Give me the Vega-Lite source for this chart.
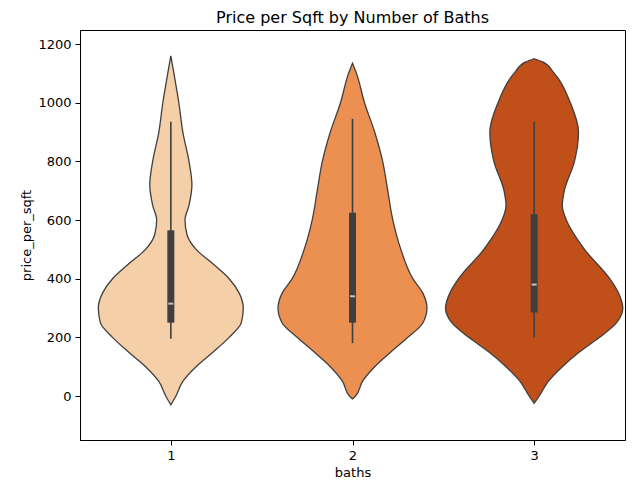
{
  "$schema": "https://vega.github.io/schema/vega-lite/v6.json",
  "width": 545,
  "height": 410,
  "autosize": {"type": "none"},
  "padding": {"left": 80, "top": 30, "right": 15, "bottom": 40},
  "title": {"text": "Price per Sqft by Number of Baths", "fontSize": 16, "fontWeight": "normal", "font": "DejaVu Sans", "color": "#000000"},
  "datasets": {
    "violin": [
      {"baths": 1, "price": 1160, "lo": 1, "hi": 1},
      {"baths": 1, "price": 1100, "lo": 0.983, "hi": 1.017},
      {"baths": 1, "price": 1000, "lo": 0.956, "hi": 1.044},
      {"baths": 1, "price": 900, "lo": 0.934, "hi": 1.066},
      {"baths": 1, "price": 800, "lo": 0.9, "hi": 1.1},
      {"baths": 1, "price": 720, "lo": 0.884, "hi": 1.116},
      {"baths": 1, "price": 650, "lo": 0.9, "hi": 1.1},
      {"baths": 1, "price": 600, "lo": 0.922, "hi": 1.078},
      {"baths": 1, "price": 550, "lo": 0.911, "hi": 1.089},
      {"baths": 1, "price": 500, "lo": 0.861, "hi": 1.139},
      {"baths": 1, "price": 450, "lo": 0.767, "hi": 1.233},
      {"baths": 1, "price": 400, "lo": 0.679, "hi": 1.321},
      {"baths": 1, "price": 350, "lo": 0.623, "hi": 1.377},
      {"baths": 1, "price": 300, "lo": 0.601, "hi": 1.399},
      {"baths": 1, "price": 250, "lo": 0.612, "hi": 1.388},
      {"baths": 1, "price": 200, "lo": 0.679, "hi": 1.321},
      {"baths": 1, "price": 150, "lo": 0.767, "hi": 1.233},
      {"baths": 1, "price": 100, "lo": 0.861, "hi": 1.139},
      {"baths": 1, "price": 50, "lo": 0.934, "hi": 1.066},
      {"baths": 1, "price": 0, "lo": 0.972, "hi": 1.028},
      {"baths": 1, "price": -30, "lo": 1, "hi": 1},
      {"baths": 2, "price": 1135, "lo": 2, "hi": 2},
      {"baths": 2, "price": 1100, "lo": 1.978, "hi": 2.022},
      {"baths": 2, "price": 1000, "lo": 1.934, "hi": 2.066},
      {"baths": 2, "price": 900, "lo": 1.878, "hi": 2.122},
      {"baths": 2, "price": 800, "lo": 1.834, "hi": 2.166},
      {"baths": 2, "price": 700, "lo": 1.806, "hi": 2.194},
      {"baths": 2, "price": 600, "lo": 1.778, "hi": 2.222},
      {"baths": 2, "price": 500, "lo": 1.734, "hi": 2.266},
      {"baths": 2, "price": 400, "lo": 1.668, "hi": 2.332},
      {"baths": 2, "price": 350, "lo": 1.612, "hi": 2.388},
      {"baths": 2, "price": 300, "lo": 1.59, "hi": 2.41},
      {"baths": 2, "price": 250, "lo": 1.612, "hi": 2.388},
      {"baths": 2, "price": 200, "lo": 1.695, "hi": 2.305},
      {"baths": 2, "price": 150, "lo": 1.789, "hi": 2.211},
      {"baths": 2, "price": 100, "lo": 1.878, "hi": 2.122},
      {"baths": 2, "price": 50, "lo": 1.945, "hi": 2.055},
      {"baths": 2, "price": 0, "lo": 1.983, "hi": 2.017},
      {"baths": 2, "price": -10, "lo": 2, "hi": 2},
      {"baths": 3, "price": 1150, "lo": 3, "hi": 3},
      {"baths": 3, "price": 1140, "lo": 2.956, "hi": 3.044},
      {"baths": 3, "price": 1100, "lo": 2.889, "hi": 3.111},
      {"baths": 3, "price": 1000, "lo": 2.801, "hi": 3.199},
      {"baths": 3, "price": 900, "lo": 2.756, "hi": 3.244},
      {"baths": 3, "price": 800, "lo": 2.778, "hi": 3.222},
      {"baths": 3, "price": 700, "lo": 2.834, "hi": 3.166},
      {"baths": 3, "price": 650, "lo": 2.845, "hi": 3.155},
      {"baths": 3, "price": 600, "lo": 2.823, "hi": 3.177},
      {"baths": 3, "price": 500, "lo": 2.723, "hi": 3.277},
      {"baths": 3, "price": 400, "lo": 2.584, "hi": 3.416},
      {"baths": 3, "price": 350, "lo": 2.535, "hi": 3.465},
      {"baths": 3, "price": 300, "lo": 2.512, "hi": 3.488},
      {"baths": 3, "price": 250, "lo": 2.546, "hi": 3.454},
      {"baths": 3, "price": 200, "lo": 2.64, "hi": 3.36},
      {"baths": 3, "price": 150, "lo": 2.751, "hi": 3.249},
      {"baths": 3, "price": 100, "lo": 2.845, "hi": 3.155},
      {"baths": 3, "price": 50, "lo": 2.922, "hi": 3.078},
      {"baths": 3, "price": 0, "lo": 2.972, "hi": 3.028},
      {"baths": 3, "price": -25, "lo": 3, "hi": 3}
    ],
    "box": [
      {"baths": 1, "wlo": 195, "q1": 250, "median": 315, "q3": 565, "whi": 935},
      {"baths": 2, "wlo": 180, "q1": 250, "median": 340, "q3": 625, "whi": 945},
      {"baths": 3, "wlo": 200, "q1": 285, "median": 380, "q3": 620, "whi": 935}
    ]
  },
  "layer": [
    {
      "data": {"name": "violin"},
      "mark": {"type": "area", "orient": "horizontal", "interpolate": "monotone", "stroke": "#3f3f3f", "strokeWidth": 1.3, "opacity": 1},
      "encoding": {
        "y": {"field": "price", "type": "quantitative",
          "scale": {"domain": [-150, 1248], "nice": false, "zero": false},
          "axis": {"values": [0, 200, 400, 600, 800, 1000, 1200], "format": "d", "title": "price_per_sqft", "grid": false}},
        "x": {"field": "lo", "type": "quantitative",
          "scale": {"domain": [0.5, 3.5], "nice": false, "zero": false},
          "axis": {"values": [1, 2, 3], "format": "d", "title": "baths", "grid": false}},
        "x2": {"field": "hi"},
        "fill": {"field": "baths", "type": "nominal", "legend": null,
          "scale": {"domain": [1, 2, 3], "range": ["#f5cfa8", "#eb9050", "#c04f1a"]}}
      }
    },
    {
      "data": {"name": "box"},
      "mark": {"type": "rule", "color": "#3f3f3f", "strokeWidth": 1.6},
      "encoding": {
        "x": {"field": "baths", "type": "quantitative"},
        "y": {"field": "wlo", "type": "quantitative"},
        "y2": {"field": "whi"}
      }
    },
    {
      "data": {"name": "box"},
      "mark": {"type": "rule", "color": "#3f3f3f", "strokeWidth": 7},
      "encoding": {
        "x": {"field": "baths", "type": "quantitative"},
        "y": {"field": "q1", "type": "quantitative"},
        "y2": {"field": "q3"}
      }
    },
    {
      "data": {"name": "box"},
      "mark": {"type": "tick", "color": "#ffffff", "orient": "horizontal", "size": 5, "thickness": 2},
      "encoding": {
        "x": {"field": "baths", "type": "quantitative"},
        "y": {"field": "median", "type": "quantitative"}
      }
    }
  ],
  "config": {
    "font": "DejaVu Sans",
    "view": {"stroke": "#000000", "strokeWidth": 1},
    "axis": {"labelFontSize": 13, "titleFontSize": 13, "titleFontWeight": "normal", "labelColor": "#000000", "titleColor": "#000000", "domainColor": "#000000", "tickColor": "#000000", "tickSize": 5, "labelPadding": 4}
  }
}
